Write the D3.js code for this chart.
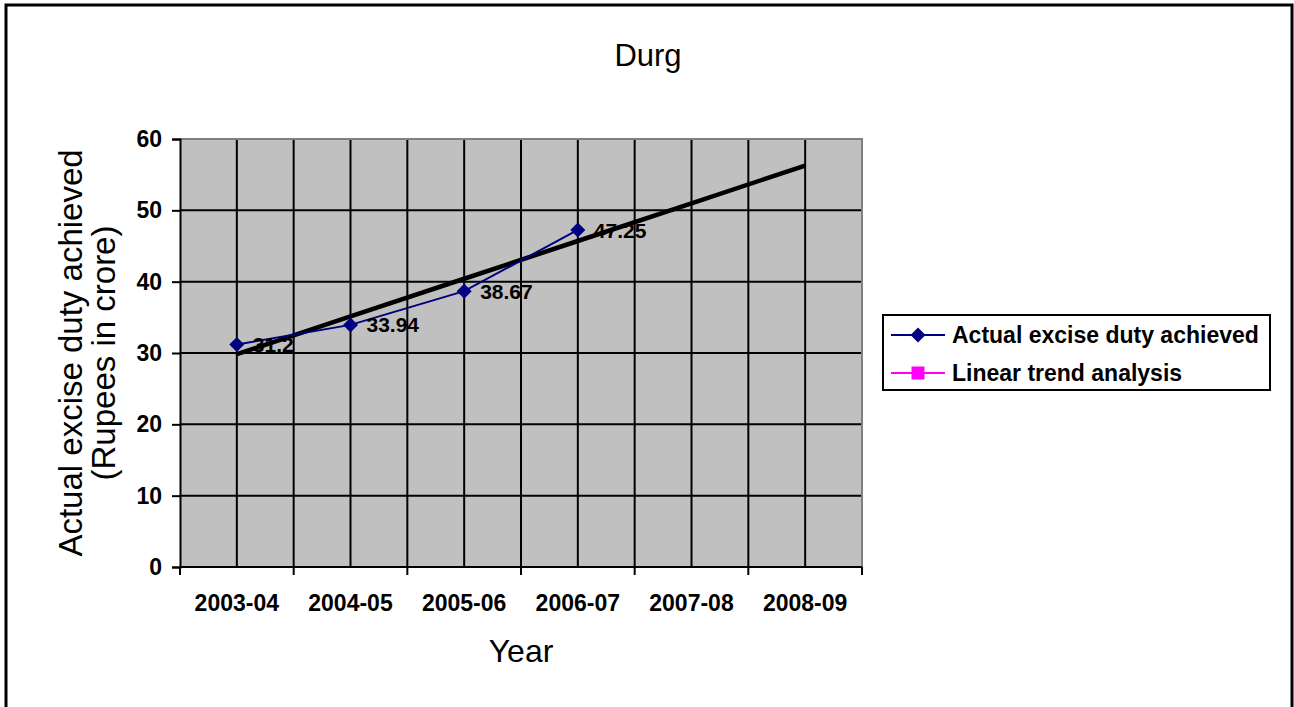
<!DOCTYPE html>
<html>
<head>
<meta charset="utf-8">
<script src="https://cdn.jsdelivr.net/npm/d3@7/dist/d3.min.js"></script>
<style>
  body { margin: 0; background: #fff; }
  svg text { font-family: Arial, "Liberation Sans", sans-serif; }
</style>
</head>
<body>
<div id="chart"></div>
<script>
// Data
const years = ["2003-04", "2004-05", "2005-06", "2006-07", "2007-08", "2008-09"];
const actualYears = ["2003-04", "2004-05", "2005-06", "2006-07"];
const actualValues = [31.2, 33.94, 38.67, 47.25];
const trendValues = [29.83, 35.12, 40.41, 45.70, 50.99, 56.27];
const yTicks = [0, 10, 20, 30, 40, 50, 60];
const seriesNames = ["Actual excise duty achieved", "Linear trend analysis"];

let W = 1294, H = 707;
let margin = { top: 139, left: 180 },
  width = 862 - 180,
  height = 567 - 139;

let svg = d3.select("#chart")
  .append("svg")
  .attr("width", W)
  .attr("height", H);

// outer chart border (bottom runs off the page)
svg.append("path")
  .attr("d", "M6,712 L6,5 L1292,5 L1292,712")
  .attr("fill", "none")
  .attr("stroke", "#000")
  .attr("stroke-width", 3);

let g = svg.append("g")
  .attr("transform", "translate(" + margin.left + "," + margin.top + ")");

let x = d3.scaleBand()
  .domain(years)
  .range([0, width])
  .padding(0);

let y = d3.scaleLinear()
  .domain([0, 60])
  .range([height, 0]);

let cx = function (d) { return x(d) + x.bandwidth() / 2; };

// plot background
g.append("rect")
  .attr("width", width)
  .attr("height", height)
  .attr("fill", "#c0c0c0");

// horizontal gridlines
g.selectAll(".hgrid")
  .data(yTicks.filter(function (d) { return d > 0 && d < 60; }))
  .enter().append("line")
  .attr("x1", 0).attr("x2", width)
  .attr("y1", function (d) { return y(d); })
  .attr("y2", function (d) { return y(d); })
  .attr("stroke", "#000")
  .attr("stroke-width", 2);

// vertical gridlines: at category centres and inner boundaries
let vlines = years.map(cx).concat(years.slice(1).map(function (d) { return x(d); }));
g.selectAll(".vgrid")
  .data(vlines)
  .enter().append("line")
  .attr("x1", function (d) { return d; })
  .attr("x2", function (d) { return d; })
  .attr("y1", 0).attr("y2", height)
  .attr("stroke", "#000")
  .attr("stroke-width", 2);

// gray top / right border of the plot
g.append("path")
  .attr("d", "M0,0 L" + width + ",0 L" + width + "," + height)
  .attr("fill", "none")
  .attr("stroke", "#808080")
  .attr("stroke-width", 2);

// Y axis
let yAxis = g.append("g")
  .call(d3.axisLeft(y).tickValues(yTicks).tickSize(8).tickPadding(10));
yAxis.select(".domain").attr("stroke-width", 2);
yAxis.selectAll(".tick line").attr("stroke-width", 2);
yAxis.selectAll("text")
  .attr("font-size", "23px")
  .attr("font-weight", "bold")
  .attr("fill", "#000");

// X axis with ticks at category boundaries
let xAxis = g.append("g")
  .attr("transform", "translate(0," + height + ")");
xAxis.append("line")
  .attr("x1", 0).attr("x2", width)
  .attr("stroke", "#000").attr("stroke-width", 2);
xAxis.selectAll(".xtick")
  .data(years.map(function (d) { return x(d); }).concat([width]))
  .enter().append("line")
  .attr("x1", function (d) { return d; })
  .attr("x2", function (d) { return d; })
  .attr("y1", 0).attr("y2", 8)
  .attr("stroke", "#000").attr("stroke-width", 2);
xAxis.selectAll(".xlabel")
  .data(years)
  .enter().append("text")
  .attr("x", cx)
  .attr("y", 44)
  .attr("text-anchor", "middle")
  .attr("font-size", "23px")
  .attr("font-weight", "bold")
  .text(function (d) { return d; });

// trend line
let trendLine = d3.line()
  .x(function (d, i) { return cx(years[i]); })
  .y(function (d) { return y(d); });
g.append("path")
  .datum(trendValues)
  .attr("d", trendLine)
  .attr("fill", "none")
  .attr("stroke", "#000")
  .attr("stroke-width", 4.5);

// actual series
let actualLine = d3.line()
  .x(function (d, i) { return cx(actualYears[i]); })
  .y(function (d) { return y(d); });
g.append("path")
  .datum(actualValues)
  .attr("d", actualLine)
  .attr("fill", "none")
  .attr("stroke", "#000080")
  .attr("stroke-width", 2);

let diamond = "M0,-7.5 L7.5,0 L0,7.5 L-7.5,0 Z";
g.selectAll(".pt")
  .data(actualValues)
  .enter().append("path")
  .attr("d", diamond)
  .attr("transform", function (d, i) {
    return "translate(" + cx(actualYears[i]) + "," + y(d) + ")";
  })
  .attr("fill", "#000080");

g.selectAll(".lbl")
  .data(actualValues)
  .enter().append("text")
  .attr("x", function (d, i) { return cx(actualYears[i]) + 16; })
  .attr("y", function (d) { return y(d); })
  .attr("dy", "0.36em")
  .attr("font-size", "21px")
  .attr("font-weight", "bold")
  .text(function (d) { return d; });

// titles
svg.append("text")
  .attr("x", 648).attr("y", 66)
  .attr("text-anchor", "middle")
  .attr("font-size", "31px")
  .text("Durg");

svg.append("text")
  .attr("x", margin.left + width / 2).attr("y", 662)
  .attr("text-anchor", "middle")
  .attr("font-size", "32px")
  .text("Year");

let yTitle = svg.append("text")
  .attr("transform", "translate(82," + (margin.top + height / 2) + ") rotate(-90)")
  .attr("text-anchor", "middle")
  .attr("font-size", "33px");
yTitle.append("tspan").attr("x", 0).attr("y", 0).text("Actual excise duty achieved");
yTitle.append("tspan").attr("x", 0).attr("y", 33).text("(Rupees in crore)");

// legend
let legend = svg.append("g");
legend.append("rect")
  .attr("x", 883).attr("y", 315)
  .attr("width", 387).attr("height", 75)
  .attr("fill", "#fff")
  .attr("stroke", "#000")
  .attr("stroke-width", 2);

let legendColors = ["#000080", "#ff00ff"];
let legendRows = legend.selectAll(".lg")
  .data(seriesNames)
  .enter().append("g")
  .attr("transform", function (d, i) { return "translate(0," + (335 + i * 38) + ")"; });

legendRows.append("line")
  .attr("x1", 891).attr("x2", 945)
  .attr("stroke", function (d, i) { return legendColors[i]; })
  .attr("stroke-width", 2);

legendRows.append("path")
  .attr("d", function (d, i) {
    return i === 0 ? diamond : "M-6.5,-6.5 L6.5,-6.5 L6.5,6.5 L-6.5,6.5 Z";
  })
  .attr("transform", "translate(918,0)")
  .attr("fill", function (d, i) { return legendColors[i]; });

legendRows.append("text")
  .attr("x", 952)
  .attr("dy", "0.36em")
  .attr("font-size", "23px")
  .attr("font-weight", "bold")
  .text(function (d) { return d; });
</script>
</body>
</html>
